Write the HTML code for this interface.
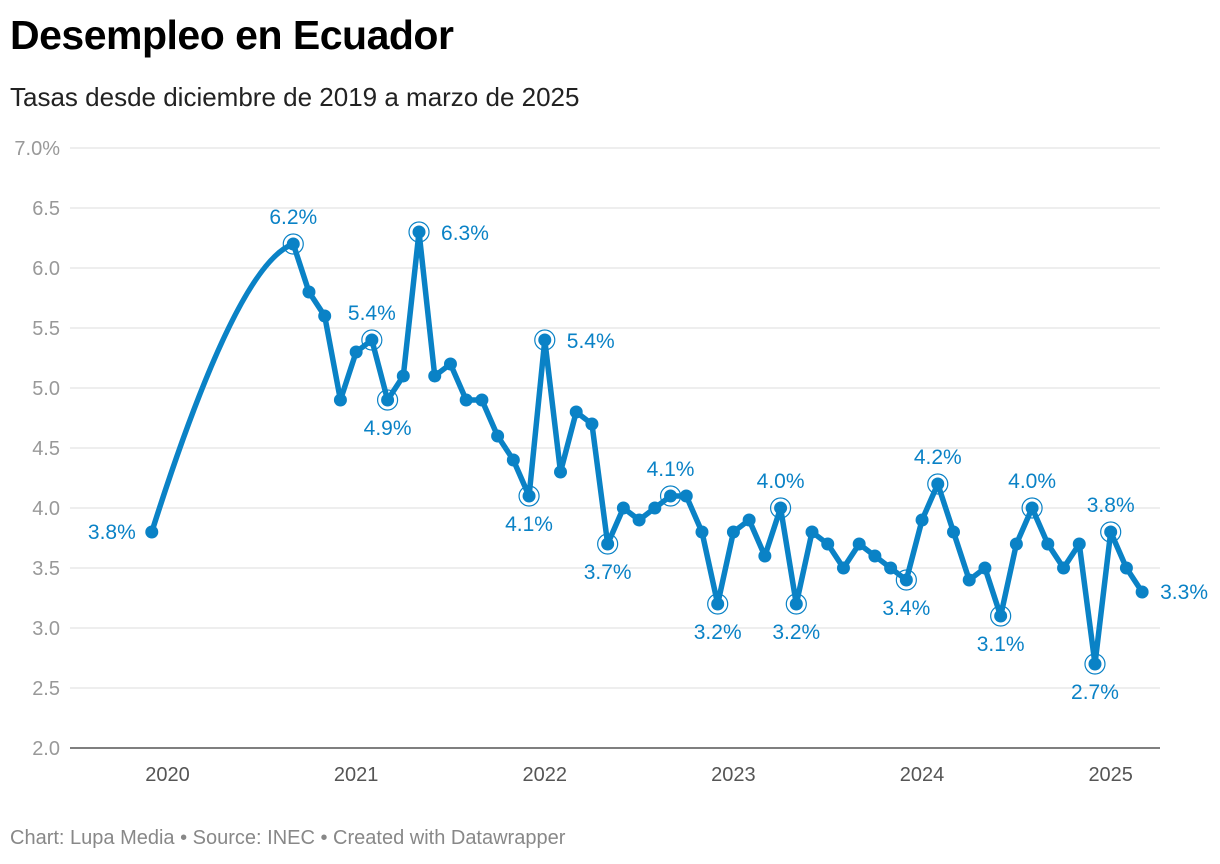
<!DOCTYPE html>
<html><head><meta charset="utf-8">
<style>
body{margin:0;background:#fff;font-family:"Liberation Sans",Roboto,sans-serif;}
#wrap{position:relative;width:1220px;height:864px;overflow:hidden;}
h1{position:absolute;left:10px;top:12px;margin:0;font-size:41px;font-weight:bold;color:#000;letter-spacing:-0.5px;}
.sub{position:absolute;left:10px;top:82px;font-size:26px;color:#222;}
.foot{position:absolute;left:10px;top:827px;font-size:20px;color:#888;}
svg text{font-family:"Liberation Sans",sans-serif;}
</style></head><body>
<div id="wrap">
<h1>Desempleo en Ecuador</h1>
<div class="sub">Tasas desde diciembre de 2019 a marzo de 2025</div>
<svg id="chart" width="1220" height="864" style="position:absolute;left:0;top:0"></svg>
<div class="foot">Chart: Lupa Media • Source: INEC • Created with Datawrapper</div>
</div>
<script>
const yTicks=[2.0,2.5,3.0,3.5,4.0,4.5,5.0,5.5,6.0,6.5,7.0];
const yearLabels=[2020,2021,2022,2023,2024,2025];
const firstValue=3.8; // Dec 2019
const values=[6.2,5.8,5.6,4.9,5.3,5.4,4.9,5.1,6.3,5.1,5.2,4.9,4.9,4.6,4.4,4.1,5.4,4.3,4.8,4.7,3.7,4.0,3.9,4.0,4.1,4.1,3.8,3.2,3.8,3.9,3.6,4.0,3.2,3.8,3.7,3.5,3.7,3.6,3.5,3.4,3.9,4.2,3.8,3.4,3.5,3.1,3.7,4.0,3.7,3.5,3.7,2.7,3.8,3.5,3.3]; // Sep 2020 .. Mar 2025
const labeled=[0,5,6,8,15,16,20,24,27,31,32,39,41,45,47,51,52];
const NS="http://www.w3.org/2000/svg";
const svg=document.getElementById('chart');
const x=m=>167.5+m*15.72; // months since Jan 2020
const y=v=>748-(v-2)*120;
const C='#0a82c6';
function el(t,a){const e=document.createElementNS(NS,t);for(const k in a)e.setAttribute(k,a[k]);svg.appendChild(e);return e;}
yTicks.forEach((t,i)=>{
 const l=el('line',{x1:70,x2:1160,y1:y(t),y2:y(t),stroke:i==0?'#333':'#ddd','stroke-width':i==0?1.2:1});
 
 
 const tx=el('text',{x:60,y:y(t)+7,'text-anchor':'end','font-size':20,fill:'#999'});
 tx.textContent=t.toFixed(1)+(i==yTicks.length-1?'%':'');
 
 
});
yearLabels.forEach(yr=>{
 const m=(yr-2020)*12;
 const t=el('text',{x:x(m),y:781,'text-anchor':'middle','font-size':20,fill:'#555'});
 t.textContent=yr;
 
 
});
const m0=-1, mS=8;
const x0=x(m0),y0=y(firstValue),x1=x(mS),y1=y(values[0]);
let d=`M${x0},${y0} Q${x0+(x1-x0)*0.6},${y1+20} ${x1},${y1}`;
values.forEach((v,i)=>{d+=` L${x(mS+i)},${y(v)}`;});
const p=el('path',{d:d,fill:'none',stroke:C,'stroke-width':5.5,'stroke-linejoin':'round','stroke-linecap':'round'});


const all=[[m0,firstValue]].concat(values.map((v,i)=>[mS+i,v]));
all.forEach(([m,v])=>{
 const c=el('circle',{cx:x(m),cy:y(v),r:6.5,fill:C});
 
 
});
function lab(m,v,dx,dy,anchor){
 const t=el('text',{x:x(m)+dx,y:y(v)+dy,'text-anchor':anchor,'font-size':21,fill:C});
 t.textContent=v.toFixed(1)+'%';
 
 
}
lab(m0,firstValue,-16,7,'end');
labeled.forEach(i=>{
 const m=mS+i,v=values[i];
 const r=el('circle',{cx:x(m),cy:y(v),r:10,fill:'none',stroke:C,'stroke-width':1.2});
 
 
 const prev=values[i-1]??v,next=values[i+1]??v;
 if(i==8||i==16) lab(m,v,22,8,'start');
 else if(v>=prev&&v>=next) lab(m,v,0,-20,'middle');
 else lab(m,v,0,35,'middle');
});
lab(mS+values.length-1,values[values.length-1],18,7,'start');
</script>
</body></html>
